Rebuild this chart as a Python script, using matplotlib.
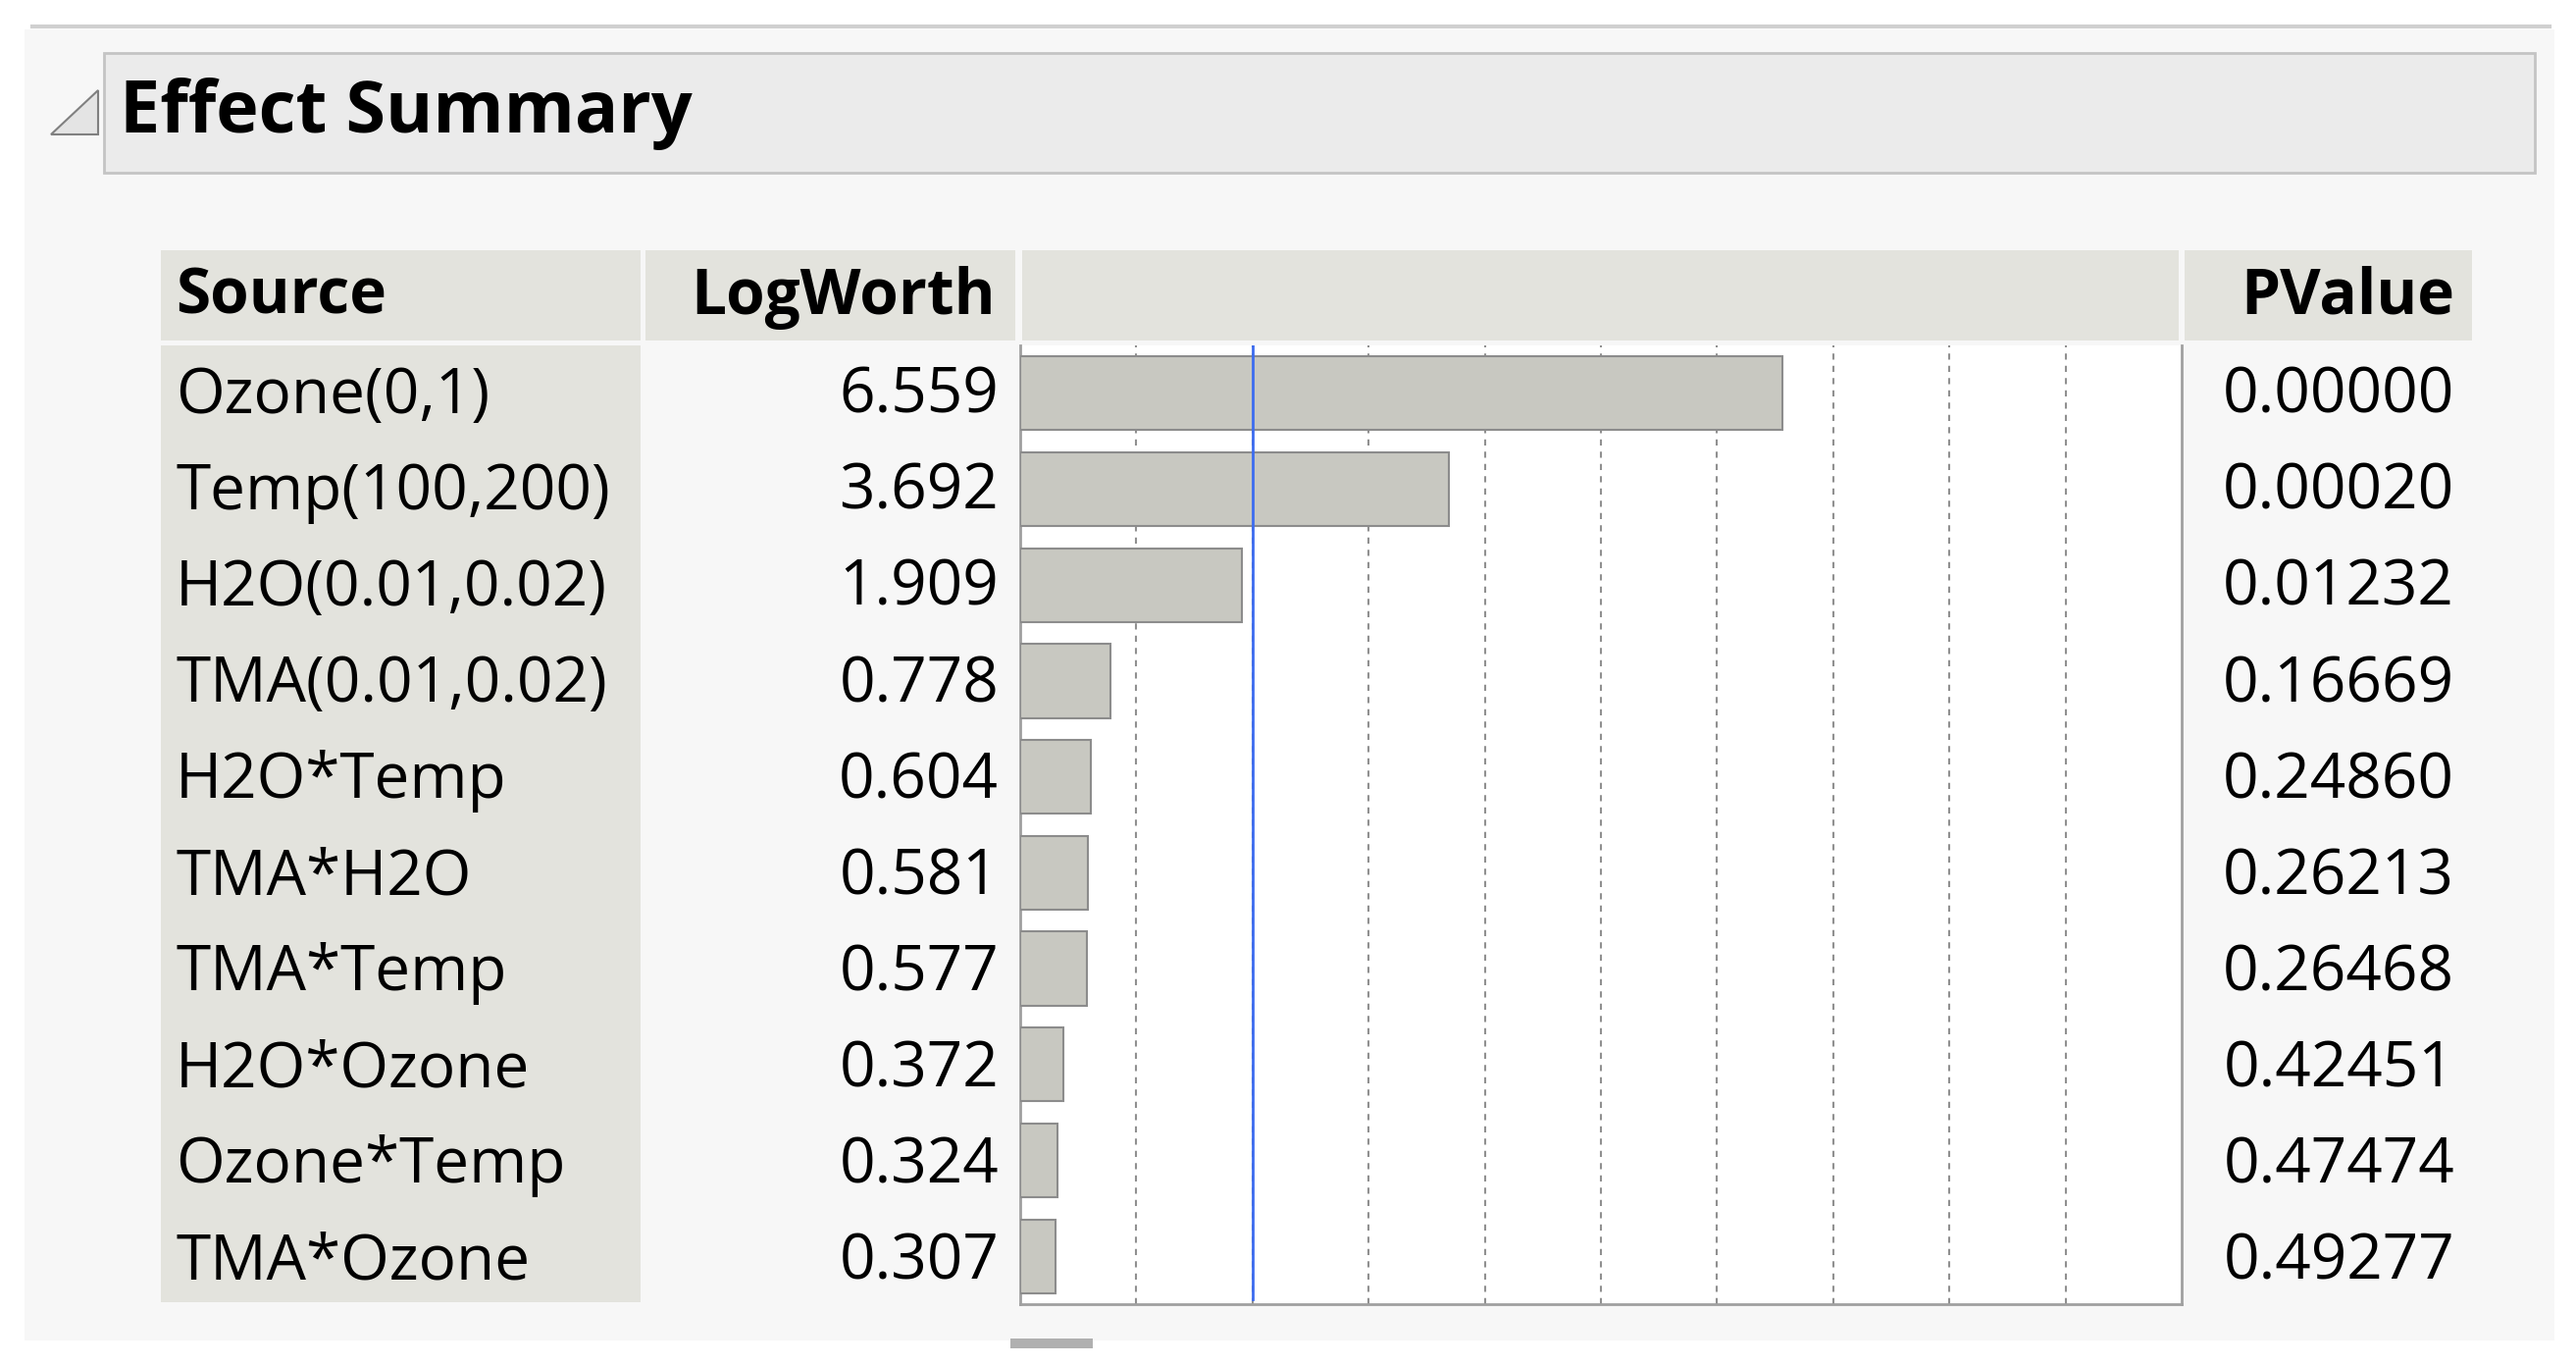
import matplotlib
matplotlib.use("Agg")
import matplotlib.pyplot as plt
from matplotlib.patches import Rectangle, Polygon

sources = ["Ozone(0,1)", "Temp(100,200)", "H2O(0.01,0.02)", "TMA(0.01,0.02)", "H2O*Temp",
           "TMA*H2O", "TMA*Temp", "H2O*Ozone", "Ozone*Temp", "TMA*Ozone"]
logworth = [6.559, 3.692, 1.909, 0.778, 0.604, 0.581, 0.577, 0.372, 0.324, 0.307]
pvalues = ["0.00000", "0.00020", "0.01232", "0.16669", "0.24860",
           "0.26213", "0.26468", "0.42451", "0.47474", "0.49277"]

W, H = 1568, 830  # layout coords taken from reference view


def fx(x):
    return x / W


def fy(y):
    return 1 - y / H


def rect(fig, x0, y0, x1, y1, **kw):
    fig.patches.append(Rectangle((fx(x0), fy(y1)), fx(x1) - fx(x0), fy(y0) - fy(y1),
                                 transform=fig.transFigure, zorder=0, **kw))


plt.rcParams["font.family"] = ["Open Sans", "DejaVu Sans"]
fig = plt.figure(figsize=(26.26, 13.91), dpi=100)
fig.patch.set_facecolor("white")

# panel background and top rule
rect(fig, 15, 18, 1555, 815, facecolor="#f7f7f7", edgecolor="none")
fig.add_artist(plt.Line2D([fx(20), fx(1552)], [fy(16), fy(16)], color="#d0d0d0", lw=3,
                          transform=fig.transFigure))
# title box
rect(fig, 63, 32, 1543, 105, facecolor="#ebebeb", edgecolor="#c4c4c4", lw=2)
fig.patches.append(Polygon([(fx(31), fy(82)), (fx(60), fy(82)), (fx(60), fy(55))], closed=True,
                           transform=fig.transFigure, facecolor="#e4e4e4", edgecolor="#808080", lw=1.5))
fig.text(fx(73), fy(69), "Effect Summary", fontsize=53, fontweight="bold", va="center", ha="left")

# header cells
hdr = "#e3e3dd"
rect(fig, 98, 152, 390, 207, facecolor=hdr, edgecolor="none")
rect(fig, 393, 152, 618, 207, facecolor=hdr, edgecolor="none")
rect(fig, 622, 152, 1326, 207, facecolor=hdr, edgecolor="none")
rect(fig, 1330, 152, 1505, 207, facecolor=hdr, edgecolor="none")
fig.text(fx(107), fy(181), "Source", fontsize=46, fontweight="bold", va="center")
fig.text(fx(606), fy(181), "LogWorth", fontsize=46, fontweight="bold", va="center", ha="right")
fig.text(fx(1494), fy(181), "PValue", fontsize=46, fontweight="bold", va="center", ha="right")
rect(fig, 98, 210, 390, 792, facecolor="#e3e3dd", edgecolor="none")

# chart axes
ax = fig.add_axes([fx(621), fy(793), fx(1328) - fx(621), fy(210) - fy(793)])
ax.set_zorder(3)
ax.set_facecolor("white")
n = len(sources)
ypos = list(range(n))
ax.barh(ypos, logworth, height=0.77, left=0, color="#c8c8c1", edgecolor="#8c8c8c", lw=1.5, zorder=3)
for g in range(1, 10):
    ax.axvline(g, color="#909090", ls=(0, (3, 3)), lw=1.5, zorder=1)
ax.plot([2, 2], [-0.55, n - 1 + 0.45], color="#3d6cf0", lw=2, zorder=4)
ax.set_xlim(0, 10)
ax.set_ylim(n - 0.5, -0.5)
ax.set_xticks([])
ax.set_yticks([])
ax.spines["top"].set_visible(False)
for side in ["left", "bottom", "right"]:
    ax.spines[side].set_color("#a0a0a0")
    ax.spines[side].set_linewidth(2)

# table rows
for i, (s, lw_, p) in enumerate(zip(sources, logworth, pvalues)):
    y = fy(241 + i * 58.5)
    fig.text(fx(107), y, s, fontsize=46, va="center")
    fig.text(fx(608), y, f"{lw_:.3f}", fontsize=46, va="center", ha="right")
    fig.text(fx(1494), y, p, fontsize=46, va="center", ha="right")

rect(fig, 615, 814, 665, 820, facecolor="#b0b0b0", edgecolor="none")

fig.savefig("out.png", dpi=100)
